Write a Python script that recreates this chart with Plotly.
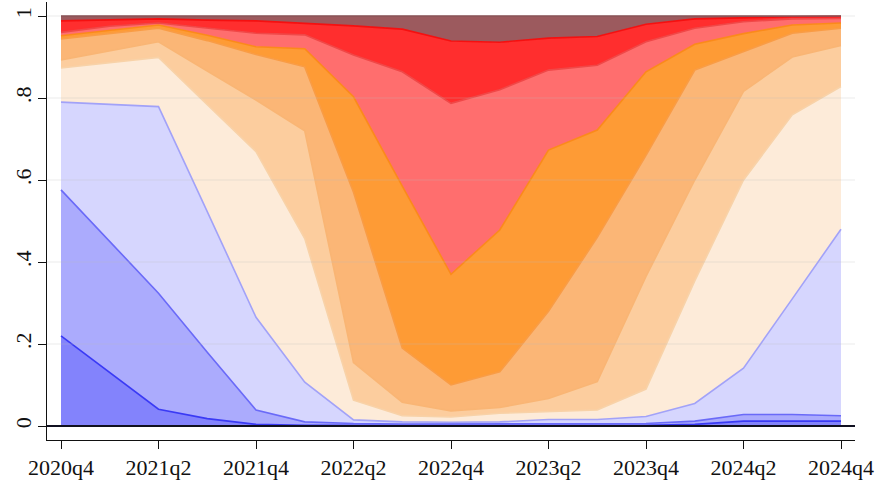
import plotly.graph_objects as go

quarters = ["2020q4", "2021q1", "2021q2", "2021q3", "2021q4", "2022q1", "2022q2", "2022q3",
            "2022q4", "2023q1", "2023q2", "2023q3", "2023q4", "2024q1", "2024q2", "2024q3", "2024q4"]
tick_labels = ["2020q4", "2021q2", "2021q4", "2022q2", "2022q4", "2023q2", "2023q4", "2024q2", "2024q4"]

# cumulative shares (upper edge of each band), bottom band first
cum_1 = [0.22, 0.13, 0.041, 0.018, 0.004, 0.002, 0.002, 0.002, 0.002, 0.002, 0.002, 0.002, 0.002, 0.004, 0.012, 0.012, 0.012]
cum_2 = [0.576, 0.45, 0.324, 0.18, 0.039, 0.01, 0.006, 0.005, 0.005, 0.005, 0.005, 0.005, 0.006, 0.012, 0.028, 0.028, 0.025]
cum_3 = [0.79, 0.785, 0.779, 0.523, 0.265, 0.107, 0.015, 0.01, 0.009, 0.01, 0.016, 0.016, 0.023, 0.055, 0.141, 0.31, 0.48]
cum_4 = [0.873, 0.886, 0.899, 0.784, 0.669, 0.457, 0.063, 0.025, 0.022, 0.031, 0.035, 0.039, 0.09, 0.354, 0.60, 0.759, 0.828]
cum_5 = [0.893, 0.915, 0.937, 0.866, 0.795, 0.72, 0.155, 0.058, 0.037, 0.045, 0.067, 0.108, 0.365, 0.60, 0.816, 0.90, 0.928]
cum_6 = [0.944, 0.957, 0.970, 0.94, 0.906, 0.876, 0.57, 0.19, 0.1, 0.132, 0.28, 0.46, 0.66, 0.868, 0.913, 0.958, 0.97]
cum_7 = [0.952, 0.965, 0.978, 0.953, 0.925, 0.92, 0.803, 0.585, 0.37, 0.478, 0.673, 0.722, 0.864, 0.931, 0.957, 0.978, 0.983]
cum_8 = [0.96, 0.975, 0.983, 0.97, 0.958, 0.954, 0.905, 0.864, 0.787, 0.82, 0.868, 0.88, 0.937, 0.97, 0.986, 0.993, 0.994]
cum_9 = [0.988, 0.99, 0.993, 0.99, 0.988, 0.982, 0.976, 0.968, 0.939, 0.936, 0.946, 0.95, 0.98, 0.993, 0.996, 0.998, 0.999]
cum_10 = [1.0] * 17

bands = [cum_1, cum_2, cum_3, cum_4, cum_5, cum_6, cum_7, cum_8, cum_9, cum_10]
fill_colors = ["#8383FC", "#ABABFD", "#D6D6FE", "#FDEBD9", "#FCCD9E", "#FBB676",
               "#FE9B35", "#FF6E6E", "#FF2E2E", "#9C5A5E"]
line_colors = ["#3A3AF5", "#6A6AF8", "#A2A2F8", "#F8D2A8", "#F9B574", "#F99C45",
               "#FB8A1A", "#F04848", "#F51010", "#7E3C40"]

x_pos = list(range(len(quarters)))
fig = go.Figure()
for k, (vals, fc, lc) in enumerate(zip(bands, fill_colors, line_colors)):
    fig.add_trace(go.Scatter(
        x=x_pos, y=vals, mode="lines",
        line=dict(color=lc, width=1.6),
        fill="tozeroy" if k == 0 else "tonexty",
        fillcolor=fc, showlegend=False, hoverinfo="skip"))

grid_vals = [0.2, 0.4, 0.6, 0.8, 1.0]
for g in grid_vals:
    fig.add_shape(type="line", xref="paper", yref="y", x0=0, x1=1, y0=g, y1=g,
                  line=dict(color="rgba(190,190,190,0.3)", width=1), layer="above")
fig.add_shape(type="line", xref="paper", yref="y", x0=0, x1=1, y0=0, y1=0,
              line=dict(color="#101020", width=2), layer="above")

font = dict(family="Liberation Serif, Times New Roman, serif", size=22, color="#111111")
fig.update_layout(
    width=878, height=487,
    margin=dict(l=47, r=23, t=2, b=47, autoexpand=False),
    paper_bgcolor="white", plot_bgcolor="white",
    font=font,
    xaxis=dict(range=[-0.2872, 16.2872], tickmode="array", automargin=False,
               tickvals=[0, 2, 4, 6, 8, 10, 12, 14, 16], ticktext=tick_labels,
               showgrid=False, zeroline=False, showline=True, linecolor="#111111",
               linewidth=1, ticks="outside", ticklen=8, tickcolor="#111111", tickfont=font),
    yaxis=dict(range=[-0.03415, 1.03415], tickmode="array", automargin=False,
               tickvals=[0, 0.2, 0.4, 0.6, 0.8, 1.0], ticktext=["0", ".2", ".4", ".6", ".8", "1"],
               tickangle=-90, showgrid=False, zeroline=False, showline=True,
               linecolor="#111111", linewidth=1, ticks="outside", ticklen=8,
               tickcolor="#111111", tickfont=font, ticklabelstandoff=-2),
)
fig.write_html("out.html", config={"displayModeBar": False},
               post_script="document.body.style.margin='0';document.body.style.overflow='hidden';")
